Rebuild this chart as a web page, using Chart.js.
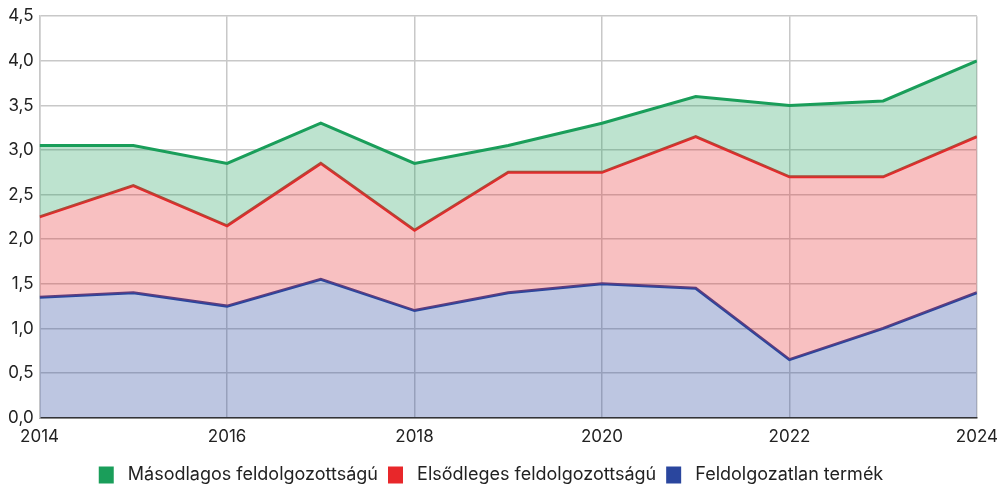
<!DOCTYPE html>
<html lang="hu">
<head>
<meta charset="utf-8">
<script src="https://cdn.jsdelivr.net/npm/chart.js@4/dist/chart.umd.min.js"></script>
<style>
    html, body { margin: 0; padding: 0; background: #fff; }
    #wrap { width: 1007px; height: 486px; }
</style>
</head>
<body>
<div id="wrap"><canvas id="areaChart" width="1007" height="486"></canvas></div>
<script>
const years = [2014, 2015, 2016, 2017, 2018, 2019, 2020, 2021, 2022, 2023, 2024];
// cumulative levels, one line per band top
const masodlagos = [3.05, 3.05, 2.85, 3.30, 2.85, 3.05, 3.30, 3.60, 3.50, 3.55, 4.00];
const elsodleges = [2.25, 2.60, 2.15, 2.85, 2.10, 2.75, 2.75, 3.15, 2.70, 2.70, 3.15];
const feldolgozatlan = [1.35, 1.40, 1.25, 1.55, 1.20, 1.40, 1.50, 1.45, 0.65, 1.00, 1.40];
const seriesNames = ["Másodlagos feldolgozottságú", "Elsődleges feldolgozottságú", "Feldolgozatlan termék"];

const FONT = "Inter, 'Noto Sans', sans-serif";
const TEXT = "#222222";
const GRID = "#c8c8c8";

const toPoints = vals => vals.map((v, i) => ({ x: years[i], y: v }));

function band(label, vals, line, fillColor, fill) {
    return {
        label: label,
        data: toPoints(vals),
        borderColor: line,
        backgroundColor: fillColor,
        fill: fill,
        borderWidth: 3,
        pointRadius: 0,
        tension: 0,
    };
}

const ctx = document.getElementById("areaChart").getContext("2d");
new Chart(ctx, {
    type: "line",
    data: {
        datasets: [
            band(seriesNames[0], masodlagos, "#1a9e5a", "rgba(26, 158, 90, 0.29)", "+1"),
            band(seriesNames[1], elsodleges, "#e8272a", "rgba(232, 39, 42, 0.29)", "+1"),
            band(seriesNames[2], feldolgozatlan, "#2a469e", "rgba(42, 70, 158, 0.31)", "origin"),
        ],
    },
    options: {
        responsive: false,
        animation: false,
        layout: { padding: { top: 6, right: 27, left: 2, bottom: -8 } },
        plugins: {
            tooltip: { enabled: false },
            legend: {
                position: "bottom",
                labels: {
                    color: TEXT,
                    font: { family: FONT, size: 18 },
                    boxWidth: 15,
                    boxHeight: 17,
                    padding: 10,
                    // extra space keeps the text a little further from the swatch
                    generateLabels: chart => chart.data.datasets.map((ds, i) => ({
                        text: " " + ds.label,
                        fillStyle: ds.borderColor,
                        strokeStyle: ds.borderColor,
                        lineWidth: 0,
                        fontColor: TEXT,
                        datasetIndex: i,
                    })),
                },
            },
        },
        scales: {
            x: {
                type: "linear",
                min: 2014,
                max: 2024,
                ticks: {
                    stepSize: 2,
                    color: TEXT,
                    font: { family: FONT, size: 17 },
                    callback: v => String(v),
                    padding: 9,
                },
                grid: { color: GRID, lineWidth: 1.5, drawTicks: false },
                border: { color: "#333333", width: 1.5 },
            },
            y: {
                min: 0,
                max: 4.5,
                ticks: {
                    stepSize: 0.5,
                    color: TEXT,
                    font: { family: FONT, size: 17 },
                    padding: 6,
                    callback: v => v.toFixed(1).replace(".", ","),
                },
                grid: { color: GRID, lineWidth: 1.5, drawTicks: false },
                border: { color: GRID, width: 1.5 },
            },
        },
    },
});
</script>
</body>
</html>
